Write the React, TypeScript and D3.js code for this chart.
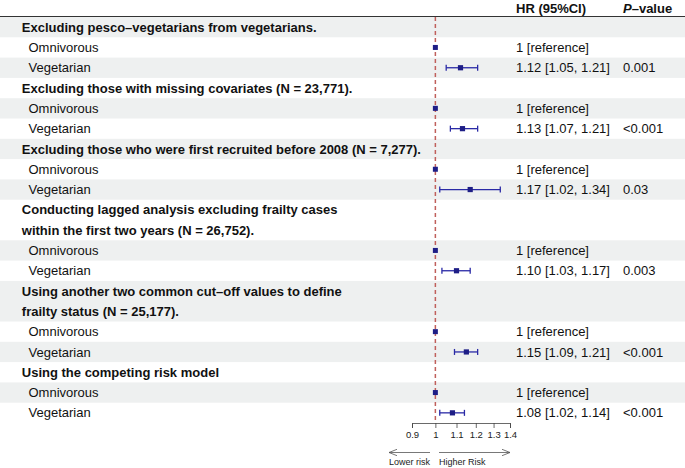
import React, { useEffect, useRef } from "react";
import * as d3 from "d3";

const groupTitles: string[][] = [
  ["Excluding pesco–vegetarians from vegetarians."],
  ["Excluding those with missing covariates (N = 23,771)."],
  ["Excluding those who were first recruited before 2008 (N = 7,277)."],
  ["Conducting lagged analysis excluding frailty cases", "within the first two years (N = 26,752)."],
  ["Using another two common cut–off values to define", "frailty status (N = 25,177)."],
  ["Using the competing risk model"],
];
const refLabel = "Omnivorous";
const expLabel = "Vegetarian";
const hrValues = [1.12, 1.13, 1.17, 1.10, 1.15, 1.08];
const ciLower = [1.05, 1.07, 1.02, 1.03, 1.09, 1.02];
const ciUpper = [1.21, 1.21, 1.34, 1.17, 1.21, 1.14];
const hrText = [
  "1.12 [1.05, 1.21]",
  "1.13 [1.07, 1.21]",
  "1.17 [1.02, 1.34]",
  "1.10 [1.03, 1.17]",
  "1.15 [1.09, 1.21]",
  "1.08 [1.02, 1.14]",
];
const pValues = ["0.001", "<0.001", "0.03", "0.003", "<0.001", "<0.001"];
const refText = "1 [reference]";
const tickValues = [0.9, 1, 1.1, 1.2, 1.3, 1.4];

type Row = {
  kind: "head" | "ref" | "exp";
  lines: string[];
  g: number;
};

const rows: Row[] = [];
groupTitles.forEach((t, g) => {
  rows.push({ kind: "head", lines: t, g });
  rows.push({ kind: "ref", lines: [refLabel], g });
  rows.push({ kind: "exp", lines: [expLabel], g });
});

const W = 685;
const H = 468;
const TOP = 17;
const UNIT = 20.3;
const FONT = "'Liberation Sans', Arial, Helvetica, sans-serif";

export default function App() {
  const axisRef = useRef<SVGGElement>(null);
  const x = d3.scaleLog().domain([0.9, 1.4]).range([412, 510]);

  let acc = 0;
  const pos = rows.map((r) => {
    const top = TOP + acc * UNIT;
    acc += r.lines.length;
    return { top, h: r.lines.length * UNIT };
  });
  const bottom = TOP + acc * UNIT;

  useEffect(() => {
    if (!axisRef.current) return;
    const g = d3.select(axisRef.current);
    g.selectAll("*").remove();
    g.call(
      d3
        .axisBottom(x)
        .tickValues(tickValues)
        .tickFormat((d) => String(d))
        .tickSize(5)
        .tickSizeOuter(5)
        .tickPadding(3)
    );
    g.selectAll("path").attr("stroke", "#444").attr("stroke-width", 0.8);
    g.selectAll("line").attr("stroke", "#444").attr("stroke-width", 0.8);
    g.selectAll("text")
      .attr("font-family", FONT)
      .attr("font-size", 9.5)
      .attr("fill", "#222");
    g.attr("font-family", FONT);
  }, []);

  const navy = "#1e1e86";
  const ciColor = "#2a2aa6";

  return (
    <svg
      width={W}
      height={H}
      style={{ position: "absolute", left: 0, top: 0, background: "#fff" }}
      fontFamily={FONT}
    >
      {rows.map((r, i) =>
        i % 2 === 0 ? (
          <rect key={"s" + i} x={0} y={pos[i].top} width={W} height={pos[i].h} fill="#eef0f0" />
        ) : null
      )}
      <text x={516} y={12.8} fontSize={13} fontWeight="bold" fill="#111">
        HR (95%CI)
      </text>
      <text x={623} y={12.8} fontSize={13} fontWeight="bold" fill="#111">
        <tspan fontStyle="italic">P</tspan>–value
      </text>
      <line x1={0} x2={W} y1={16.5} y2={16.5} stroke="#333" strokeWidth={1} />

      {rows.map((r, i) =>
        r.lines.map((ln, k) => (
          <text
            key={"l" + i + "-" + k}
            x={r.kind === "head" ? 21.8 : 28.5}
            y={pos[i].top + UNIT * (k + 0.5) + 4.6}
            fontSize={13}
            fontWeight={r.kind === "head" ? "bold" : "normal"}
            fill="#111"
          >
            {ln}
          </text>
        ))
      )}

      <line
        x1={x(1)}
        x2={x(1)}
        y1={TOP}
        y2={bottom}
        stroke="#c0605c"
        strokeWidth={1.5}
        strokeDasharray="4,3"
      />

      {rows.map((r, i) => {
        const cy = pos[i].top + UNIT / 2;
        if (r.kind === "ref") {
          return (
            <g key={"p" + i}>
              <rect x={x(1) - 2.5} y={cy - 2.5} width={5} height={5} fill={navy} />
              <text x={516} y={cy + 4.6} fontSize={13} fill="#111">
                {refText}
              </text>
            </g>
          );
        }
        if (r.kind === "exp") {
          const g = r.g;
          const x1 = x(ciLower[g]);
          const x2 = x(ciUpper[g]);
          return (
            <g key={"p" + i}>
              <line x1={x1} x2={x2} y1={cy} y2={cy} stroke={ciColor} strokeWidth={1.3} />
              <line x1={x1} x2={x1} y1={cy - 3} y2={cy + 3} stroke={ciColor} strokeWidth={1.3} />
              <line x1={x2} x2={x2} y1={cy - 3} y2={cy + 3} stroke={ciColor} strokeWidth={1.3} />
              <rect x={x(hrValues[g]) - 2.6} y={cy - 2.6} width={5.2} height={5.2} fill={navy} />
              <text x={516} y={cy + 4.6} fontSize={13} fill="#111">
                {hrText[g]}
              </text>
              <text x={623} y={cy + 4.6} fontSize={13} fill="#111">
                {pValues[g]}
              </text>
            </g>
          );
        }
        return null;
      })}

      <g ref={axisRef} transform={`translate(0,${423})`} />

      <defs>
        <marker id="arr" viewBox="0 0 10 10" refX={10} refY={5} markerWidth={8} markerHeight={8} orient="auto-start-reverse" markerUnits="userSpaceOnUse">
          <path d="M0,1 L10,5 L0,9" fill="none" stroke="#555" strokeWidth={1} />
        </marker>
      </defs>
      <line x1={430} x2={389} y1={452.5} y2={452.5} stroke="#555" strokeWidth={0.8} markerEnd="url(#arr)" />
      <line x1={439} x2={510} y1={452.5} y2={452.5} stroke="#555" strokeWidth={0.8} markerEnd="url(#arr)" />
      <text x={389} y={464.5} fontSize={9} fill="#222">
        Lower risk
      </text>
      <text x={439} y={464.5} fontSize={9} fill="#222">
        Higher Risk
      </text>
    </svg>
  );
}
